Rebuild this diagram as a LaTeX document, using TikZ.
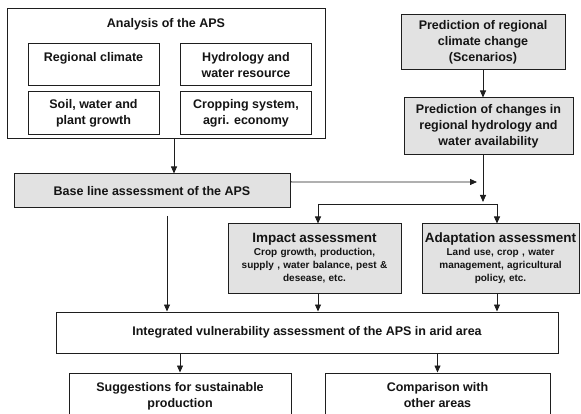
\documentclass[tikz,border=0pt]{standalone}
\usepackage{fontspec}
\setmainfont{Liberation Sans}
\usepackage{tikz}
\usetikzlibrary{arrows.meta, positioning, calc}
\definecolor{boxline}{RGB}{30,30,30}
\definecolor{boxgrey}{RGB}{226,226,226}
\definecolor{inkdark}{RGB}{20,20,20}
\tikzset{
  whitebox/.style={rectangle, draw=boxline, fill=white, align=center,
    font=\fontsize{12.5}{16}\selectfont\bfseries, text=inkdark,
    line width=1pt, inner sep=2pt},
  greybox/.style={whitebox, fill=boxgrey},
  notebox/.style={greybox, text width=#1, font=\fontsize{10}{13}\selectfont\bfseries},
  arrow/.style={-{Triangle[length=7pt,width=6pt]}, line width=0.8pt, color=boxline},
  line/.style={line width=0.8pt, color=boxline}
}
\newcommand{\headline}[1]{{\fontsize{13.5}{17}\selectfont #1\par}}

\begin{document}
\begin{tikzpicture}[x=1pt,y=-1pt]
  \useasboundingbox (0,0) rectangle (581,414);
  \node[whitebox, minimum width=318, minimum height=130] (ana) at (166,74) {};
  \node[font=\fontsize{12.5}{16}\selectfont\bfseries, text=inkdark] (anatitle) at (166,24) {Analysis of the APS};
  \node[whitebox, minimum width=131, minimum height=42] (climate) at (93.5,65) {Regional climate\\ \mbox{}};
  \node[whitebox, minimum width=131, minimum height=42] (hydro) at (246,65) {Hydrology and\\water resource};
  \node[whitebox, minimum width=131, minimum height=43] (soil) at (93.5,113.5) {Soil, water and\\plant growth};
  \node[whitebox, minimum width=131, minimum height=43] (crop) at (246,113.5) {Cropping system,\\agri. economy};
  \node[greybox, minimum width=276, minimum height=34] (base) at (152,191) {Base line assessment of the APS};

  \node[greybox, minimum width=164, minimum height=55] (pred1) at (483,42.5) {Prediction of regional\\climate change\\(Scenarios)};
  \node[greybox, minimum width=169, minimum height=57] (pred2) at (488.5,126.5) {Prediction of changes in\\regional hydrology and\\water availability};

  \node[notebox=169, minimum height=69] (impact) at (314.5,258.5) {\headline{Impact assessment}Crop growth, production,\\supply , water balance, pest \&\\desease, etc.};
  \node[notebox=153, minimum height=69] (adapt) at (500.5,258.5) {\headline{Adaptation assessment}Land use, crop , water\\management, agricultural\\policy, etc.};

  \node[whitebox, minimum width=502, minimum height=41] (integ) at (307,332.5) {Integrated vulnerability assessment of the APS in arid area};
  \node[whitebox, minimum width=222, minimum height=60] (sugg) at (180,403) {Suggestions for sustainable\\production\\ \mbox{}};
  \node[whitebox, minimum width=225, minimum height=60] (comp) at (437.5,403) {Comparison with\\other areas\\ \mbox{}};

  \coordinate (colA) at (174,0);
  \coordinate (colB) at (167,216);
  \coordinate (baseout) at ($(base.north east)!0.24!(base.south east)$);
  \coordinate (feed) at (477,182);
  \coordinate (split) at (483,202);
  \coordinate (splitL) at (318,204);
  \coordinate (splitR) at (497,204);

  \draw[arrow] (ana.south -| colA) -- (base.north -| colA);
  \draw[arrow] (baseout) -- (feed);
  \draw[arrow] (pred1.south) -- (pred1.south |- pred2.north);
  \draw[arrow] (pred1.south |- pred2.south) -- (split);
  \draw[line] (splitL) -- (splitR);
  \draw[arrow] (splitL) -- (splitL |- impact.north);
  \draw[arrow] (splitR) -- (splitR |- adapt.north);
  \draw[arrow] (colB) -- (colB |- integ.north);
  \draw[arrow] (impact.south -| splitL) -- (splitL |- integ.north);
  \draw[arrow] (adapt.south -| splitR) -- (splitR |- integ.north);
  \draw[arrow] (integ.south -| sugg.north) -- (sugg.north);
  \draw[arrow] (integ.south -| comp.north) -- (comp.north);
\end{tikzpicture}
\end{document}
